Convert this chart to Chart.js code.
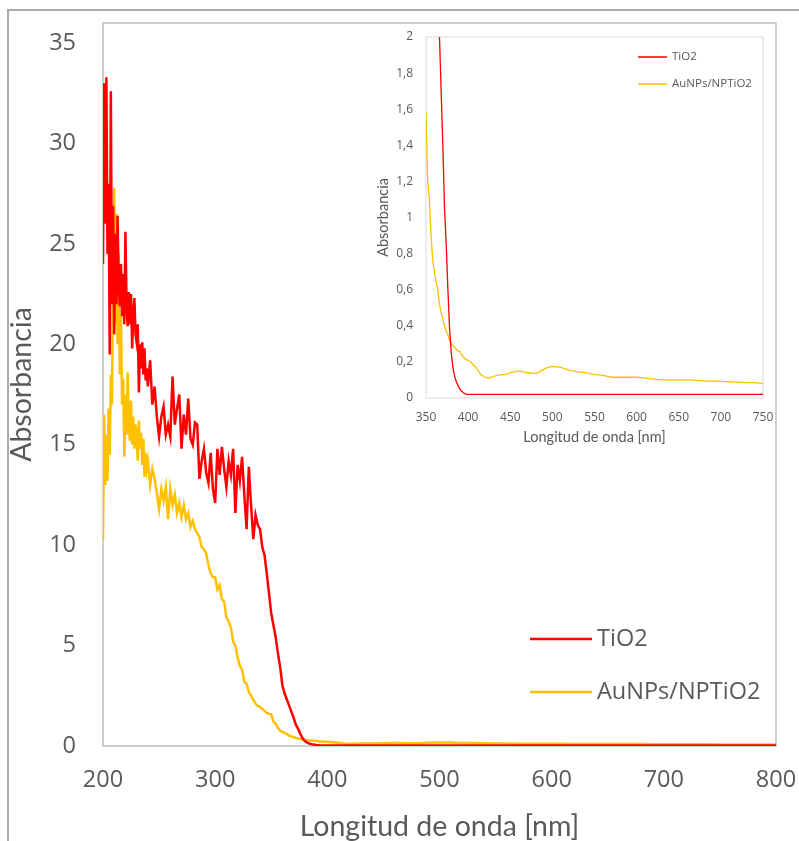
<!DOCTYPE html>
<html>
<head>
<meta charset="utf-8">
<script src="https://cdn.jsdelivr.net/npm/chart.js@4.4.1/dist/chart.umd.min.js"></script>
<style>
  html, body { margin: 0; padding: 0; background: #fff; }
  body { width: 799px; height: 841px; position: relative; overflow: hidden; }
  #frame { position: absolute; left: 7px; top: 9px; width: 900px; height: 900px; border: 2px solid #ababab; box-sizing: border-box; }
  #main { position: absolute; left: 0; top: 0; width: 799px; height: 841px; }
  #inset { position: absolute; left: 370px; top: 20px; width: 420px; height: 440px; }
</style>
</head>
<body>
<div id="frame"></div>
<canvas id="main" width="799" height="841"></canvas>
<canvas id="inset" width="420" height="440"></canvas>
<script>
// UV-vis spectra (wavelength in nm, absorbance)
const wavelength = [
  200, 201, 202, 203, 204, 205, 206, 207, 208, 209,
  210, 211, 212, 213, 214, 215, 216, 217, 218, 219,
  220, 221, 222, 223, 224, 225, 226, 227, 228, 229,
  230, 231, 232, 233, 234, 235, 236, 237, 238, 239, 240,
  242, 244, 246, 248, 250, 252, 254, 256, 258, 260,
  262, 264, 266, 268, 270, 272, 274, 276, 278, 280,
  282, 284, 286, 288, 290, 292, 294, 296, 298, 300,
  302, 304, 306, 308, 310, 312, 314, 316, 318, 320,
  322, 324, 326, 328, 330, 332, 334, 336, 338, 340,
  342, 344, 346, 348, 350, 352, 354, 356, 358, 360,
  362, 364, 366, 368, 370, 372, 374, 376, 378, 380,
  382, 384, 386, 388, 390, 392, 394, 396, 398, 400,
  405, 410, 415, 420, 425, 430, 435, 440, 445, 450,
  455, 460, 465, 470, 475, 480, 485, 490, 495, 500,
  510, 520, 530, 540, 550, 560, 570, 580, 590, 600,
  610, 620, 630, 640, 650, 660, 670, 680, 690, 700,
  710, 720, 730, 740, 750, 760, 770, 780, 790, 800
];

const tio2 = [
  24.0, 33.0, 26.0, 33.3, 24.5, 28.0, 19.5, 32.6, 22.0, 26.9,
  20.5, 25.5, 22.0, 26.4, 23.0, 21.9, 24.0, 21.4, 23.5, 21.0,
  25.6, 22.0, 20.9, 22.6, 21.0, 22.5, 19.8, 21.5, 22.3, 20.5,
  20.1, 21.0, 17.6, 20.0, 18.8, 20.1, 18.5, 19.8, 18.2, 18.8, 17.9,
  19.2, 17.0, 17.9, 16.4, 15.4, 16.4, 16.9, 15.5, 16.0, 15.4,
  18.4, 16.0, 16.8, 17.5, 14.8, 16.5, 15.5, 17.3, 15.3, 15.0,
  16.1, 16.0, 13.3, 14.2, 14.8, 13.6, 13.1, 14.6, 12.8, 12.1,
  14.8, 13.5, 14.9, 13.8, 12.9, 14.2, 13.5, 14.8, 11.6, 14.0,
  13.2, 14.4, 12.5, 10.8, 13.9, 12.0, 10.3, 11.5, 11.0, 10.8,
  9.9, 9.5, 8.6, 7.6, 6.6, 6.0, 5.4, 4.6, 3.9, 3.0,
  2.6, 2.3, 2.0, 1.7, 1.4, 1.05, 0.85, 0.6, 0.38, 0.25,
  0.17, 0.12, 0.09, 0.07, 0.05, 0.04, 0.03, 0.025, 0.02, 0.02,
  0.02, 0.02, 0.02, 0.02, 0.02, 0.02, 0.02, 0.02, 0.02, 0.02,
  0.02, 0.02, 0.02, 0.02, 0.02, 0.02, 0.02, 0.02, 0.02, 0.02,
  0.02, 0.02, 0.02, 0.02, 0.02, 0.02, 0.02, 0.02, 0.02, 0.02,
  0.02, 0.02, 0.02, 0.02, 0.02, 0.02, 0.02, 0.02, 0.02, 0.02,
  0.02, 0.02, 0.02, 0.02, 0.02, 0.02, 0.02, 0.02, 0.02, 0.02
];

const aunps = [
  10.3, 16.5, 13.0, 15.5, 13.2, 16.8, 14.5, 18.5, 17.0, 23.5,
  27.8, 21.0, 26.5, 20.0, 24.5, 18.5, 21.5, 17.0, 18.3, 14.4,
  17.5, 15.5, 18.6, 16.0, 15.2, 17.2, 15.0, 16.4, 14.8, 16.0,
  15.5, 14.2, 16.2, 14.8, 15.6, 14.0, 15.3, 13.4, 14.6, 13.8, 14.2,
  13.0, 13.8, 13.3, 12.6, 11.8, 12.8, 12.2, 12.9, 11.3, 12.8,
  12.0, 12.5, 11.6, 12.1, 11.4, 12.0, 11.3, 11.6, 10.9, 11.2,
  10.8, 10.6, 10.4, 9.9, 9.8, 9.6, 9.0, 8.6, 8.4, 8.4,
  7.8, 8.0, 7.3, 7.2, 6.4, 6.2, 5.9, 5.2, 5.0, 4.4,
  4.0, 3.8, 3.2, 3.1, 2.7, 2.5, 2.3, 2.1, 2.0, 1.95,
  1.85, 1.75, 1.65, 1.6, 1.58, 1.2, 1.1, 0.9, 0.76, 0.7,
  0.64, 0.6, 0.52, 0.47, 0.44, 0.4, 0.37, 0.35, 0.32, 0.3,
  0.29, 0.28, 0.27, 0.26, 0.26, 0.24, 0.23, 0.22, 0.21, 0.21,
  0.19, 0.165, 0.13, 0.115, 0.11, 0.12, 0.125, 0.13, 0.13, 0.14,
  0.145, 0.15, 0.145, 0.14, 0.14, 0.135, 0.145, 0.16, 0.17, 0.175,
  0.17, 0.155, 0.145, 0.14, 0.13, 0.125, 0.115, 0.115, 0.115, 0.115,
  0.11, 0.105, 0.1, 0.1, 0.1, 0.1, 0.098, 0.095, 0.093, 0.092,
  0.09, 0.088, 0.085, 0.085, 0.08, 0.08, 0.078, 0.077, 0.075, 0.075
];

const seriesNames = ['TiO2', 'AuNPs/NPTiO2'];
const seriesColors = ['#FF0000', '#FFC000'];

// tick labels of the big chart's y axis (axis itself runs up to 36)
const mainYTicks = [0, 5, 10, 15, 20, 25, 30, 35];

const textGray = '#595959';

// pair each value with its wavelength
function toPoints(values) {
  return wavelength.map((x, i) => ({ x: x, y: values[i] }));
}

function makeDatasets(width) {
  return [tio2, aunps].map((values, i) => ({
    label: seriesNames[i],
    data: toPoints(values),
    borderColor: seriesColors[i],
    borderWidth: width,
    pointRadius: 0,
    tension: 0,
    fill: false
  }));
}

// gray box around the plot area
const plotFrame = {
  id: 'plotFrame',
  beforeDatasetsDraw(chart, args, opts) {
    const { ctx, chartArea } = chart;
    ctx.save();
    ctx.strokeStyle = opts.color;
    ctx.lineWidth = opts.width;
    ctx.strokeRect(chartArea.left, chartArea.top, chartArea.right - chartArea.left, chartArea.bottom - chartArea.top);
    ctx.restore();
  }
};

// legend drawn inside the plot, like the Excel one
const boxLegend = {
  id: 'boxLegend',
  afterDraw(chart, args, opts) {
    const ctx = chart.ctx;
    ctx.save();
    ctx.font = opts.font;
    ctx.textBaseline = 'middle';
    ctx.textAlign = 'left';
    chart.data.datasets.forEach((ds, i) => {
      const y = opts.y + i * opts.gap;
      ctx.strokeStyle = ds.borderColor;
      ctx.lineWidth = opts.lineWidth;
      ctx.beginPath();
      ctx.moveTo(opts.x, y);
      ctx.lineTo(opts.x + opts.len, y);
      ctx.stroke();
      ctx.fillStyle = textGray;
      ctx.fillText(ds.label, opts.x + opts.len + opts.textGap, y);
    });
    ctx.restore();
  }
};

// main chart
// note: label gaps go through tickLength (invisible) so they don't eat into the layout padding
new Chart(document.getElementById('main'), {
  type: 'line',
  data: { datasets: makeDatasets(2.5) },
  options: {
    responsive: false,
    animation: false,
    layout: { padding: { left: 0, top: 23, right: 23, bottom: 0 } },
    scales: {
      x: {
        type: 'linear',
        min: 200,
        max: 800,
        grid: { display: false, drawTicks: true, tickLength: 20 },
        border: { display: false },
        ticks: { stepSize: 100, padding: 0, color: textGray, font: { family: 'Open Sans', size: 23.5 } },
        title: { display: true, text: 'Longitud de onda [nm]', color: textGray, padding: { top: 0, bottom: 0 }, font: { family: 'Lato', size: 28.5, lineHeight: 1 } },
        afterFit(scale) { scale.height = 95; }
      },
      y: {
        min: 0,
        max: 36,
        grid: { display: false, drawTicks: true, tickLength: 27 },
        border: { display: false },
        ticks: { padding: 0, color: textGray, font: { family: 'Open Sans', size: 23.5 } },
        afterBuildTicks(scale) { scale.ticks = mainYTicks.map(v => ({ value: v })); },
        title: { display: true, text: 'Absorbancia', color: textGray, padding: { top: 8, bottom: 0 }, font: { family: 'Lato', size: 28.5, lineHeight: 1 } },
        afterFit(scale) { scale.width = 103; }
      }
    },
    plugins: {
      legend: { display: false },
      tooltip: { enabled: false },
      plotFrame: { color: '#bfbfbf', width: 1.5 },
      boxLegend: { x: 530, y: 639, gap: 53, len: 62, textGap: 5, lineWidth: 2.5, font: '23.5px "Open Sans"' }
    }
  },
  plugins: [plotFrame, boxLegend]
});

// inset: zoom on 350-750 nm
new Chart(document.getElementById('inset'), {
  type: 'line',
  data: { datasets: makeDatasets(1.3) },
  options: {
    responsive: false,
    animation: false,
    layout: { padding: { left: 0, top: 17, right: 27, bottom: 0 } },
    scales: {
      x: {
        type: 'linear',
        min: 350,
        max: 750,
        grid: { display: false, drawTicks: true, tickLength: 12 },
        border: { display: false },
        ticks: { stepSize: 50, padding: 0, color: textGray, font: { family: 'Open Sans', size: 12 } },
        title: { display: true, text: 'Longitud de onda [nm]', color: textGray, padding: { top: 0, bottom: 15 }, font: { family: 'Lato', size: 14.5, lineHeight: 1 } },
        afterFit(scale) { scale.height = 62; }
      },
      y: {
        min: 0,
        max: 2,
        grid: { display: false, drawTicks: true, tickLength: 13 },
        border: { display: false },
        ticks: {
          stepSize: 0.2,
          padding: 0,
          color: textGray,
          font: { family: 'Open Sans', size: 12 },
          callback: (v) => String(Math.round(v * 10) / 10).replace('.', ',')
        },
        title: { display: true, text: 'Absorbancia', color: textGray, padding: { top: 6, bottom: 0 }, font: { family: 'Lato', size: 14.5, lineHeight: 1 } },
        afterFit(scale) { scale.width = 56; }
      }
    },
    plugins: {
      legend: { display: false },
      tooltip: { enabled: false },
      plotFrame: { color: '#d9d9d9', width: 1 },
      boxLegend: { x: 268, y: 37, gap: 27, len: 29, textGap: 5, lineWidth: 1.5, font: '11.5px "Open Sans"' }
    }
  },
  plugins: [plotFrame, boxLegend]
});
</script>
</body>
</html>
